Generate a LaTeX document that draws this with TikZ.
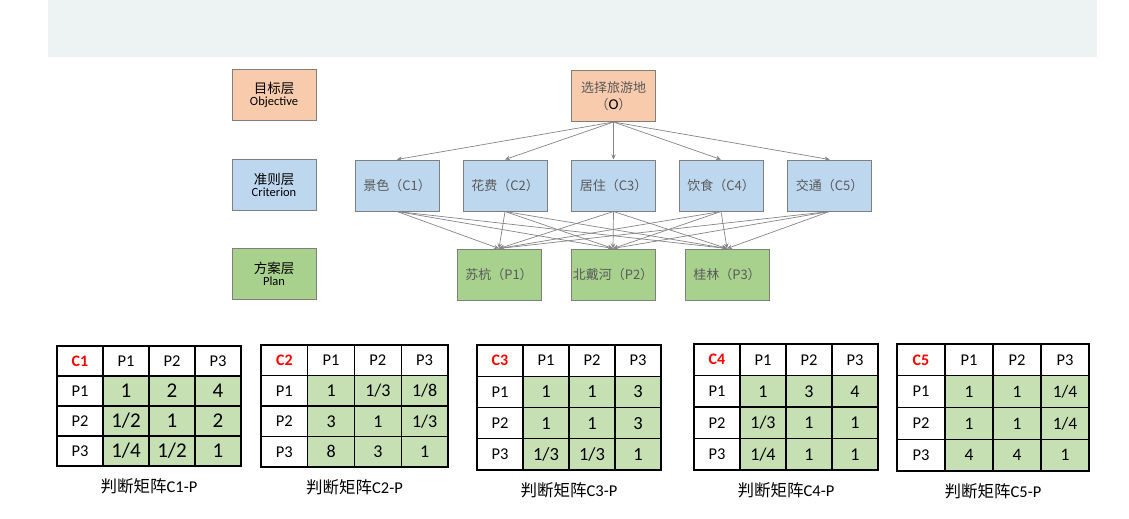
\documentclass[tikz,border=0pt]{standalone}
\usepackage{fontspec}
\setmainfont{Carlito}
\newfontfamily\cjk{Noto Sans CJK SC}
\usetikzlibrary{arrows.meta}

\definecolor{bandgray}{HTML}{EDF3F3}
\definecolor{goalfill}{HTML}{F8CBAD}
\definecolor{critfill}{HTML}{BDD7EE}
\definecolor{planfill}{HTML}{A9D18E}
\definecolor{cellgreen}{HTML}{C6E0B4}
\definecolor{boxline}{HTML}{7F7F7F}
\definecolor{arrowgray}{HTML}{858585}
\definecolor{textgray}{HTML}{595959}

% judgement matrix: #1 name, #2 x, #3 y, #4 cell width, #5 cell height,
% #6 criterion, #7 rows, #8 caption, #9 value size
\newcommand{\judgematrix}[9]{%
  \node[headcell,minimum width=#4pt,minimum height=#5pt,text=red,font=\bfseries\fontsize{16}{16}\selectfont]
    (#1-0-0) at ({#2+0.5*#4},{#3+0.5*#5}) {#6};
  \foreach \p [count=\j] in {P1,P2,P3} {
    \node[headcell,minimum width=#4pt,minimum height=#5pt] (#1-0-\j) at ({#2+(\j+0.5)*#4},{#3+0.5*#5}) {\p};
    \node[headcell,minimum width=#4pt,minimum height=#5pt] (#1-\j-0) at ({#2+0.5*#4},{#3+(\j+0.5)*#5}) {\p};
  }
  \foreach \r [count=\i] in {#7} {
    \foreach \v [count=\j] in \r {
      \node[datacell,minimum width=#4pt,minimum height=#5pt,font=\fontsize{#9}{#9}\selectfont]
        (#1-\i-\j) at ({#2+(\j+0.5)*#4},{#3+(\i+0.5)*#5}) {\v};
    }
  }
  \node[captext] (#1-cap) at ({#2+2*#4},{#3+4*#5+20}) {{\cjk 判断矩阵}#8};
}

\begin{document}
\begin{tikzpicture}[
x=1pt, y=-1pt,
layerbox/.style={draw=boxline, line width=1pt, minimum width=84pt, minimum height=51pt, align=center, inner sep=1pt},
elembox/.style={layerbox, text=textgray, font=\cjk\fontsize{13}{17}\selectfont},
link/.style={draw=arrowgray, line width=0.7pt, -{Stealth[length=5pt,width=4.5pt]}},
headcell/.style={draw=black, line width=1.2pt, fill=white, inner sep=0pt, font=\fontsize{16.5}{16.5}\selectfont},
datacell/.style={headcell, fill=cellgreen},
captext/.style={font=\fontsize{16.5}{16.5}\selectfont}
]
\useasboundingbox (0,0) rectangle (1129,519);
\fill[bandgray] (48,0) rectangle (1097,57);

% layer labels
\node[layerbox,fill=goalfill] (goal) at (274,95) {{\cjk\fontsize{13.5}{16}\selectfont 目标层}\\{\fontsize{12.5}{14}\selectfont Objective}};
\node[layerbox,fill=critfill] (crit) at (274,184.5) {{\cjk\fontsize{13.5}{16}\selectfont 准则层}\\{\fontsize{12.5}{14}\selectfont Criterion}};
\node[layerbox,fill=planfill] (plan) at (274,274) {{\cjk\fontsize{13.5}{16}\selectfont 方案层}\\{\fontsize{12.5}{14}\selectfont Plan}};

% hierarchy
\node[elembox,fill=goalfill] (O) at (613.5,96) {选择旅游地\\（{\rmfamily\fontsize{15}{15}\selectfont\color{black}O}）};

\node[elembox,fill=critfill] (C1) at (397,185.5) {景色（C1）};
\node[elembox,fill=critfill] (C2) at (505,185.5) {花费（C2）};
\node[elembox,fill=critfill] (C3) at (613.5,185.5) {居住（C3）};
\node[elembox,fill=critfill] (C4) at (721,185.5) {饮食（C4）};
\node[elembox,fill=critfill] (C5) at (829.5,185.5) {交通（C5）};

\node[elembox,fill=planfill] (P1) at (499,274.5) {苏杭（P1）};
\node[elembox,fill=planfill] (P2) at (613,274.5) {北戴河（P2）};
\node[elembox,fill=planfill] (P3) at (727,274.5) {桂林（P3）};

\foreach \i in {1,...,5} {
  \draw[link] (O.south) -- (C\i.north);
  \foreach \j in {1,2,3}
    \draw[link] (C\i.south) -- (P\j.north);
}

% matrices
\judgematrix{m1}{57}{346}{46}{30}{C1}{{1,2,4},{1/2,1,2},{1/4,1/2,1}}{C1-P}{21}
\judgematrix{m2}{261}{345}{46.75}{30.5}{C2}{{1,1/3,1/8},{3,1,1/3},{8,3,1}}{C2-P}{18}
\judgematrix{m3}{477}{345}{46}{31.25}{C3}{{1,1,3},{1,1,3},{1/3,1/3,1}}{C3-P}{18.5}
\judgematrix{m4}{694}{344}{46}{31.5}{C4}{{1,3,4},{1/3,1,1},{1/4,1,1}}{C4-P}{18}
\judgematrix{m5}{897}{344}{48}{31.75}{C5}{{1,1,1/4},{1,1,1/4},{4,4,1}}{C5-P}{17.5}
\end{tikzpicture}
\end{document}
